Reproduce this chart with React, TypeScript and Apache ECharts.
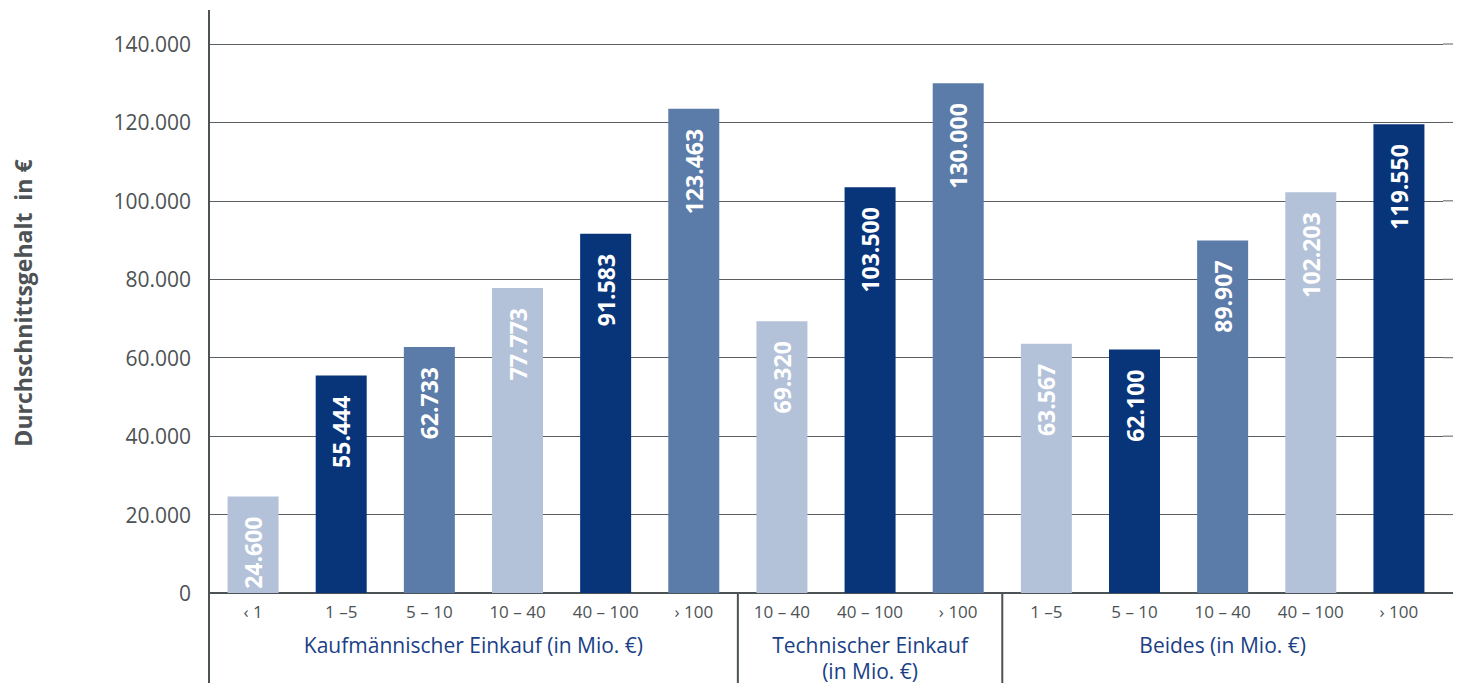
import React, { useEffect, useRef } from "react";
import * as echarts from "echarts";

const categories = ["‹ 1", "1 –5", "5 – 10", "10 – 40", "40 – 100", "› 100", "10 – 40", "40 – 100", "› 100", "1 –5", "5 – 10", "10 – 40", "40 – 100", "› 100"];
const values = [24600, 55444, 62733, 77773, 91583, 123463, 69320, 103500, 130000, 63567, 62100, 89907, 102203, 119550];
const palette = ["#b3c2d9", "#08357a", "#5b7ba8"];
const groupLabels = ["Kaufmännischer Einkauf (in Mio. €)", "Technischer Einkauf\n(in Mio. €)", "Beides (in Mio. €)"];
const groupStarts = [0, 6, 9];
const groupEnds = [5, 8, 13];
const yTitle = "Durchschnittsgehalt  in €";
const yMax = 140000;
const yStep = 20000;

const fmt = (v: number) => String(Math.round(v)).replace(/\B(?=(\d{3})+(?!\d))/g, ".");

const GRAY = "#4d5254";
const BLUE = "#1a3f86";
const FONT = "Open Sans";

export default function App() {
  const ref = useRef<HTMLDivElement>(null);
  useEffect(() => {
    if (!ref.current) return;
    const chart = echarts.init(ref.current, null, { renderer: "svg" });
    chart.setOption({
      animation: false,
      grid: { left: 209, right: 18, top: 44, bottom: 94 },
      xAxis: {
        type: "category",
        data: categories,
        axisLine: { show: true, lineStyle: { color: GRAY, width: 2 } },
        axisTick: { show: false },
        axisLabel: { color: GRAY, fontSize: 17, fontFamily: FONT, margin: 10, interval: 0 },
      },
      yAxis: {
        type: "value",
        min: 0,
        max: yMax,
        interval: yStep,
        axisLine: { show: false },
        axisTick: { show: false },
        splitLine: { lineStyle: { color: "#5a5e60", width: 1 } },
        axisLabel: { color: GRAY, fontSize: 21, fontFamily: FONT, margin: 18, formatter: (v: number) => fmt(v) },
      },
      series: [
        {
          type: "bar",
          barWidth: 51,
          data: values.map((v, i) => ({ value: v, itemStyle: { color: palette[i % 3] } })),
          label: {
            show: true,
            position: "insideTop",
            rotate: 90,
            align: "right",
            verticalAlign: "middle",
            distance: 20,
            color: "#ffffff",
            fontSize: 23,
            fontWeight: "bold",
            fontFamily: FONT,
            formatter: (p: any) => fmt(p.value),
          },
        },
      ],
    });

    const cx = (i: number) => chart.convertToPixel({ xAxisIndex: 0 }, i) as number;
    const step = cx(1) - cx(0);
    const bottomY = chart.convertToPixel({ yAxisIndex: 0 }, 0) as number;
    const rightX = cx(categories.length - 1) + step / 2;
    const graphics: any[] = [];
    for (let v = 0; v <= yMax; v += yStep) {
      const y = chart.convertToPixel({ yAxisIndex: 0 }, v) as number;
      graphics.push({
        type: "line",
        shape: { x1: rightX, y1: y, x2: rightX + 10, y2: y },
        style: { stroke: v === 0 ? GRAY : "#5a5e60", lineWidth: v === 0 ? 2 : 1 },
      });
    }
    graphics.push({
      type: "line",
      shape: { x1: cx(0) - step / 2, y1: 10, x2: cx(0) - step / 2, y2: 683 },
      style: { stroke: GRAY, lineWidth: 2 },
      z: 10,
    });
    groupStarts.forEach((s, gi) => {
      const e = groupEnds[gi];
      const left = cx(s) - step / 2;
      if (gi > 0) {
        graphics.push({
          type: "line",
          shape: { x1: left, y1: bottomY, x2: left, y2: 683 },
          style: { stroke: GRAY, lineWidth: 2 },
          z: 10,
        });
      }
      graphics.push({
        type: "text",
        x: (cx(s) + cx(e)) / 2,
        y: 632,
        style: {
          text: groupLabels[gi],
          fill: BLUE,
          font: `21px "${FONT}"`,
          textAlign: "center",
          textVerticalAlign: "top",
          lineHeight: 26,
        },
      });
    });
    graphics.push({
      type: "text",
      x: 23,
      y: 303,
      rotation: Math.PI / 2,
      style: {
        text: yTitle,
        fill: GRAY,
        font: `bold 23px "${FONT}"`,
        lineHeight: 24,
        textAlign: "center",
        textVerticalAlign: "middle",
      },
    });
    chart.setOption({ graphic: graphics });
    return () => chart.dispose();
  }, []);
  return <div ref={ref} style={{ position: "absolute", left: 0, top: 0, width: 1461, height: 687 }} />;
}
